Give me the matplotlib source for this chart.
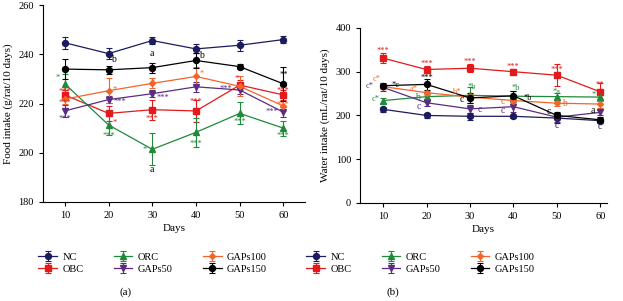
import matplotlib.pyplot as plt

plt.rcParams['font.family'] = ['Liberation Serif', 'DejaVu Serif']
plt.rcParams['font.size'] = 7.5

days = [10, 20, 30, 40, 50, 60]
groups = ['NC', 'OBC', 'ORC', 'GAPs50', 'GAPs100', 'GAPs150']
colors = ['#1c1c5c', '#e31a1c', '#1f8a3a', '#5b2c83', '#f2642a', '#000000']
markers = ['o', 's', '^', 'v', 'D', 'o']
msizes = [4.3, 4.3, 4.3, 4.3, 3.0, 4.3]

# food intake (g/rat/10 days)
food_nc = [244.7, 240.3, 245.6, 242.2, 243.7, 246.0]
food_obc = [223.5, 216.0, 217.5, 217.0, 227.5, 223.5]
food_orc = [228.0, 211.3, 201.4, 208.3, 216.0, 210.0]
food_g50 = [217.0, 221.6, 224.0, 226.8, 225.5, 216.5]
food_g100 = [221.8, 225.2, 228.2, 231.0, 227.0, 219.0]
food_g150 = [234.0, 233.7, 234.6, 237.5, 235.0, 228.0]

food_nc_err = [2.5, 2.2, 1.5, 1.8, 2.3, 1.5]
food_obc_err = [2.0, 3.0, 4.0, 4.5, 2.0, 2.0]
food_orc_err = [4.0, 4.0, 6.5, 6.0, 4.5, 3.0]
food_g50_err = [2.5, 1.5, 1.5, 2.0, 1.5, 2.0]
food_g100_err = [2.0, 5.0, 2.0, 4.0, 4.0, 2.0]
food_g150_err = [4.0, 1.5, 2.0, 3.0, 1.0, 7.0]

# water intake (mL/rat/10 days)
water_nc = [214, 200, 198, 198, 194, 188]
water_obc = [331, 305, 308, 300, 292, 254]
water_orc = [234, 243, 246, 244, 243, 242]
water_g50 = [264, 229, 215, 220, 196, 207]
water_g100 = [266, 252, 242, 234, 228, 226]
water_g150 = [268, 271, 240, 245, 200, 190]

water_nc_err = [6, 5, 8, 4, 12, 6]
water_obc_err = [12, 8, 9, 6, 25, 20]
water_orc_err = [5, 7, 18, 13, 8, 5]
water_g50_err = [8, 8, 10, 12, 10, 5]
water_g100_err = [6, 5, 6, 5, 6, 8]
water_g150_err = [6, 12, 12, 12, 8, 6]

food = [food_nc, food_obc, food_orc, food_g50, food_g100, food_g150]
food_err = [food_nc_err, food_obc_err, food_orc_err, food_g50_err, food_g100_err, food_g150_err]
water = [water_nc, water_obc, water_orc, water_g50, water_g100, water_g150]
water_err = [water_nc_err, water_obc_err, water_orc_err, water_g50_err, water_g100_err, water_g150_err]

# significance labels (x, y, text, colour index)
food_notes = [
    (21.2, 237.8, 'b', 5), (30, 240.5, 'a', 5), (30, 193, 'a', 5), (41.3, 239.5, 'b', 5),
    (8.3, 230.5, '*', 2), (10, 213.8, '***', 3), (10, 224.8, '***', 1), (10, 220.3, '***', 1),
    (20, 206.8, '***', 2), (21.3, 225.5, '*', 4), (21.3, 212, '*', 1), (22.7, 220.8, '***', 3),
    (32.5, 222.3, '***', 3), (30, 213.8, '***', 1), (28.3, 201, '*', 2), (30, 228.5, '*', 4),
    (40, 220.5, '***', 1), (40, 203.5, '***', 2), (41.3, 232, '*', 4),
    (46.8, 226, '***', 3), (49.3, 230, '*', 1), (50, 212.5, '***', 2),
    (60, 231.5, '**', 5), (57.3, 216.5, '***', 3), (60, 207, '***', 2), (60, 225, '***', 1),
    (60, 219.5, '***', 4),
]
water_notes = [
    (10, 347, '***', 1), (20, 319, '***', 1), (30, 322, '***', 1), (40, 312, '***', 1),
    (50, 305, '***', 1), (60, 270, '**', 1),
    (8.6, 283, 'c*', 4), (6.8, 267, 'c*', 3), (12.9, 269, '*c', 5), (8.3, 238, 'c*', 2),
    (20, 287, '***', 5), (17.0, 261, 'a*', 4), (18.0, 240, 'b', 2), (18.3, 220, 'c', 3),
    (30.5, 264, '*b', 2), (26.8, 254, 'b*', 4), (28.2, 236, 'c', 5), (32.2, 213, 'c', 3),
    (40.5, 263, '*b', 2), (37.6, 232, 'c', 4), (37.6, 212, 'c', 3), (43.3, 240, '*b', 5),
    (50, 253, '*a', 2), (51.7, 228, 'b', 4), (48.2, 208, 'c', 5), (50, 177, 'c', 0),
    (58.2, 211, 'a', 5), (58.5, 247, '*', 2), (60, 175, 'c', 0),
]

fig = plt.figure(figsize=(6.23, 3.01), dpi=100)
ax1 = fig.add_axes([0.069, 0.329, 0.421, 0.654])
ax2 = fig.add_axes([0.578, 0.326, 0.396, 0.581])


def draw(ax, values, errs, notes):
    handles = []
    for vals, err, c, m, ms, name in zip(values, errs, colors, markers, msizes, groups):
        h = ax.errorbar(days, vals, yerr=err, color=c, marker=m, markersize=ms,
                        linewidth=0.9, elinewidth=0.8, capsize=2, capthick=0.8, label=name)
        handles.append(h)
    for x, y, t, ci in notes:
        fs = 6 if '*' in t else 7
        ax.text(x, y, t, color=colors[ci], fontsize=fs, ha='center', va='center')
    for s in ['top', 'right']:
        ax.spines[s].set_visible(False)
    ax.spines['left'].set_linewidth(0.8)
    ax.spines['bottom'].set_linewidth(0.8)
    ax.tick_params(direction='out', length=3, width=0.8, labelsize=7.5)
    ax.set_xticks(days)
    ax.set_xlabel('Days', fontsize=8, labelpad=3)
    return handles


h1 = draw(ax1, food, food_err, food_notes)
ax1.set_xlim(5, 65)
ax1.set_ylim(180, 260)
ax1.set_yticks([180, 200, 220, 240, 260])
ax1.set_ylabel('Food intake (g/rat/10 days)', fontsize=8, labelpad=4)

h2 = draw(ax2, water, water_err, water_notes)
ax2.set_xlim(4.7, 61.5)
ax2.set_ylim(0, 400)
ax2.set_yticks([0, 100, 200, 300, 400])
ax2.set_ylabel('Water intake (mL/rat/10 days)', fontsize=8, labelpad=4)

for h, anchor in [(h1, (0.055, 0.175)), (h2, (0.485, 0.175))]:
    fig.legend(h, groups, loc='upper left', bbox_to_anchor=anchor, ncol=3,
               frameon=False, fontsize=7.5, handlelength=1.8, handletextpad=0.5,
               columnspacing=2.9, labelspacing=0.25, borderaxespad=0)

fig.text(0.201, 0.02, '(a)', ha='center', fontsize=8)
fig.text(0.631, 0.02, '(b)', ha='center', fontsize=8)

fig.savefig('out.png', dpi=100)
